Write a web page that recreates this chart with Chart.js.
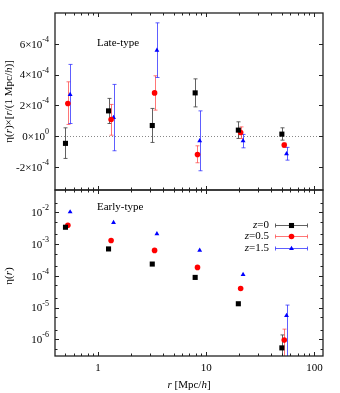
<!DOCTYPE html>
<html>
<head>
<meta charset="utf-8">
<script src="https://cdn.jsdelivr.net/npm/chart.js@4.4.1/dist/chart.umd.min.js"></script>
<style>
  body { margin: 0; background: #fff; }
  #wrap { position: relative; width: 340px; height: 393px; }
  canvas { position: absolute; left: 0; }
</style>
</head>
<body>
<div id="wrap">
  <canvas id="late" width="340" height="200" style="top:0"></canvas>
  <canvas id="early" width="340" height="213" style="top:180px"></canvas>
</div>
<script>
// separation r [Mpc/h] of each series (slightly offset for clarity)
const rZ0 = [0.50, 1.25, 3.17, 7.9, 19.8, 50];
const rZ05 = [0.526, 1.32, 3.33, 8.3, 20.8, 52.6];
const rZ15 = [0.552, 1.39, 3.5, 8.7, 21.9, 55.2];

// late-type: eta(r) * r
const lateZ0 = [-0.47e-4, 1.64e-4, 0.69e-4, 2.81e-4, 0.39e-4, 0.13e-4];
const lateZ0Lo = [-1.45e-4, 0.82e-4, -0.41e-4, 1.9e-4, -0.15e-4, -0.26e-4];
const lateZ0Hi = [0.54e-4, 2.45e-4, 1.8e-4, 3.72e-4, 0.93e-4, 0.54e-4];
const lateZ05 = [2.12e-4, 1.08e-4, 2.81e-4, -1.19e-4, 0.24e-4, -0.58e-4];
const lateZ05Lo = [0.76e-4, 0.06e-4, 1.69e-4, -1.73e-4, -0.15e-4, -0.73e-4];
const lateZ05Hi = [3.53e-4, 2.06e-4, 3.92e-4, -0.63e-4, 0.6e-4, -0.44e-4];
const lateZ15 = [2.7e-4, 1.21e-4, 5.58e-4, -0.3e-4, -0.3e-4, -1.15e-4];
const lateZ15Lo = [0.82e-4, -0.95e-4, 3.81e-4, -2.25e-4, -0.76e-4, -1.56e-4];
const lateZ15Hi = [4.66e-4, 3.36e-4, 7.36e-4, 1.64e-4, 0.11e-4, -0.73e-4];

// early-type: eta(r)
const earlyZ0 = [3.37e-3, 7.0e-4, 2.34e-4, 8.9e-5, 1.32e-5, 5.4e-7];
const earlyZ0Lo = [null, null, null, null, null, 1e-8];
const earlyZ0Hi = [null, null, null, null, null, 1.38e-6];
const earlyZ05 = [3.9e-3, 1.29e-3, 6.3e-4, 1.84e-4, 4.0e-5, 9.5e-7];
const earlyZ05Lo = [null, null, null, null, null, 1e-8];
const earlyZ05Hi = [null, null, null, null, null, 2.1e-6];
const earlyZ15 = [1.02e-2, 4.73e-3, 2.09e-3, 6.3e-4, 1.1e-4, 5.6e-6];
const earlyZ15Lo = [null, null, null, null, null, 1e-8];
const earlyZ15Hi = [null, null, null, null, null, 1.2e-5];

// ticks
const xMajor = [1, 10, 100];
const xMajorLabels = ['1', '10', '100'];
const xMinor = [0.5, 0.6, 0.7, 0.8, 0.9, 2, 3, 4, 5, 6, 7, 8, 9, 20, 30, 40, 50, 60, 70, 80, 90];
const lateTicks = [-2e-4, 0, 2e-4, 4e-4, 6e-4];
const lateTickBase = ['-2\u00d710', '0\u00d710', '2\u00d710', '4\u00d710', '6\u00d710'];
const lateTickExp = ['-4', '0', '-4', '-4', '-4'];
const earlyTicks = [1e-6, 1e-5, 1e-4, 1e-3, 1e-2];
const earlyTickBase = ['10', '10', '10', '10', '10'];
const earlyTickExp = ['-6', '-5', '-4', '-3', '-2'];
const earlyMinor = [5e-7, 2e-6, 5e-6, 2e-5, 5e-5, 2e-4, 5e-4, 2e-3, 5e-3, 2e-2];

const seriesLabels = ['0', '0.5', '1.5'];

const FONT = "'Liberation Serif', 'DejaVu Serif', serif";
const series = [
  { color: '#000000', err: 'rgba(70,70,70,0.85)', style: 'rect', radius: 3.6 },
  { color: '#ff0000', err: 'rgba(255,60,60,0.7)', style: 'circle', radius: 2.8 },
  { color: '#0000ff', err: 'rgba(40,40,255,0.75)', style: 'triangle', radius: 2.8 }
];

function pts(xs, ys) {
  return xs.map((x, i) => ({ x: x, y: ys[i] }));
}

function makeDatasets(rs, vals, los, his) {
  return series.map((s, k) => ({
    data: pts(rs[k], vals[k]),
    lo: los[k],
    hi: his[k],
    errColor: s.err,
    pointStyle: s.style,
    pointRadius: s.radius,
    pointHoverRadius: s.radius,
    backgroundColor: s.color,
    borderColor: s.color,
    borderWidth: 0,
    showLine: false
  }));
}

function setFont(ctx, size, italic) {
  ctx.font = (italic ? 'italic ' : '') + size + 'px ' + FONT;
}

// runs: [[text, italic], ...]
function runsWidth(ctx, runs, size) {
  let w = 0;
  runs.forEach(r => { setFont(ctx, size, r[1]); w += ctx.measureText(r[0]).width; });
  return w;
}

function drawRuns(ctx, runs, x, y, size, align) {
  let w = runsWidth(ctx, runs, size);
  let cx = align === 'center' ? x - w / 2 : align === 'right' ? x - w : x;
  ctx.textAlign = 'left';
  ctx.textBaseline = 'middle';
  runs.forEach(r => {
    setFont(ctx, size, r[1]);
    ctx.fillText(r[0], cx, y);
    cx += ctx.measureText(r[0]).width;
  });
}

function drawPowLabel(ctx, base, exp, xRight, y) {
  setFont(ctx, 11, false);
  const wb = ctx.measureText(base).width;
  setFont(ctx, 8, false);
  const we = ctx.measureText(exp).width;
  const x0 = xRight - wb - we;
  ctx.textAlign = 'left';
  ctx.textBaseline = 'middle';
  setFont(ctx, 11, false);
  ctx.fillText(base, x0, y + 1);
  setFont(ctx, 8, false);
  ctx.fillText(exp, x0 + wb, y - 4);
}

const errorBars = {
  id: 'errorBars',
  beforeDatasetsDraw(chart) {
    const { ctx, chartArea: a } = chart;
    const x = chart.scales.x, y = chart.scales.y;
    ctx.save();
    ctx.beginPath();
    ctx.rect(a.left, a.top, a.right - a.left, a.bottom - a.top);
    ctx.clip();
    const o = chart.options.plugins.panel;
    if (o.zeroLine) {
      const py = Math.round(y.getPixelForValue(0)) + 0.5;
      ctx.strokeStyle = '#888';
      ctx.lineWidth = 1;
      ctx.setLineDash([1, 2]);
      ctx.beginPath();
      ctx.moveTo(a.left, py);
      ctx.lineTo(a.right, py);
      ctx.stroke();
      ctx.setLineDash([]);
    }
    chart.data.datasets.forEach(ds => {
      ctx.strokeStyle = ds.errColor;
      ctx.lineWidth = 1;
      ds.data.forEach((p, i) => {
        if (ds.lo[i] == null) return;
        const px = Math.round(x.getPixelForValue(p.x)) + 0.5;
        const y1 = y.getPixelForValue(ds.lo[i]);
        const y2 = y.getPixelForValue(ds.hi[i]);
        ctx.beginPath();
        ctx.moveTo(px, y1); ctx.lineTo(px, y2);
        ctx.moveTo(px - 2, y1); ctx.lineTo(px + 2, y1);
        ctx.moveTo(px - 2, y2); ctx.lineTo(px + 2, y2);
        ctx.stroke();
      });
    });
    ctx.restore();
  }
};

const panel = {
  id: 'panel',
  afterDraw(chart, args, o) {
    const { ctx, chartArea: a } = chart;
    const x = chart.scales.x, y = chart.scales.y;
    ctx.save();
    ctx.strokeStyle = '#222';
    ctx.lineWidth = 1;
    // ticks
    ctx.beginPath();
    const xt = (v, len) => {
      const px = Math.round(x.getPixelForValue(v)) + 0.5;
      ctx.moveTo(px, a.bottom); ctx.lineTo(px, a.bottom - len);
      ctx.moveTo(px, a.top); ctx.lineTo(px, a.top + len);
    };
    const yt = (v, len) => {
      const py = Math.round(y.getPixelForValue(v)) + 0.5;
      ctx.moveTo(a.left, py); ctx.lineTo(a.left + len, py);
      ctx.moveTo(a.right, py); ctx.lineTo(a.right - len, py);
    };
    xMajor.forEach(v => xt(v, 4));
    xMinor.forEach(v => xt(v, 2.5));
    o.yMajor.forEach(v => yt(v, 4));
    (o.yMinor || []).forEach(v => yt(v, 2.5));
    ctx.stroke();
    // frame
    ctx.lineWidth = 1.3;
    ctx.strokeRect(a.left, a.top, a.right - a.left, a.bottom - a.top);

    ctx.fillStyle = '#000';
    // y tick labels
    o.yMajor.forEach((v, i) => {
      drawPowLabel(ctx, o.yBase[i], o.yExp[i], a.left - 6, y.getPixelForValue(v));
    });
    // x tick labels
    if (o.xLabels) {
      xMajor.forEach((v, i) => {
        drawRuns(ctx, [[xMajorLabels[i], 0]], x.getPixelForValue(v), a.bottom + 12, 11, 'center');
      });
      drawRuns(ctx, [['r', 1], [' [Mpc/', 0], ['h', 1], [']', 0]], (a.left + a.right) / 2, a.bottom + 29, 11, 'center');
    }
    // panel title
    drawRuns(ctx, [[o.title, 0]], 97, o.titleY, 11, 'left');
    // y title
    ctx.save();
    ctx.translate(9, o.yTitleY);
    ctx.rotate(-Math.PI / 2);
    drawRuns(ctx, o.yTitle, 0, 0, 11, 'center');
    ctx.restore();
    // legend
    if (o.legend) {
      const rows = [44.7, 56.2, 67.7];
      series.forEach((s, k) => {
        const ly = rows[k];
        ctx.fillStyle = '#000';
        drawRuns(ctx, [['z', 1], ['=' + seriesLabels[k], 0]], 269, ly, 11, 'right');
        ctx.strokeStyle = s.err;
        ctx.lineWidth = 1;
        ctx.beginPath();
        const py = Math.round(ly) + 0.5;
        ctx.moveTo(275.5, py); ctx.lineTo(307.5, py);
        ctx.moveTo(275.5, py - 2); ctx.lineTo(275.5, py + 2);
        ctx.moveTo(307.5, py - 2); ctx.lineTo(307.5, py + 2);
        ctx.stroke();
        ctx.fillStyle = s.color;
        Chart.helpers.drawPoint(ctx, { pointStyle: s.style, radius: s.radius, rotation: 0, borderWidth: 0 }, 291.5, py);
      });
    }
    ctx.restore();
  }
};

function baseOptions(yScale, padBottom, panelOpts) {
  return {
    responsive: false,
    animation: false,
    events: [],
    layout: { padding: { left: 55, right: 17, top: 13, bottom: padBottom } },
    scales: {
      x: { type: 'logarithmic', min: 0.4, max: 120, display: false },
      y: yScale
    },
    plugins: {
      legend: { display: false },
      tooltip: { enabled: false },
      panel: panelOpts
    }
  };
}

new Chart(document.getElementById('late'), {
  type: 'scatter',
  data: {
    datasets: makeDatasets(
      [rZ0, rZ05, rZ15],
      [lateZ0, lateZ05, lateZ15],
      [lateZ0Lo, lateZ05Lo, lateZ15Lo],
      [lateZ0Hi, lateZ05Hi, lateZ15Hi])
  },
  options: baseOptions({ type: 'linear', min: -3.5e-4, max: 8e-4, display: false }, 10, {
    zeroLine: true,
    yMajor: lateTicks, yBase: lateTickBase, yExp: lateTickExp,
    xLabels: false,
    title: 'Late-type', titleY: 43,
    yTitle: [['\u03b7(', 0], ['r', 1], [')\u00d7[', 0], ['r', 1], ['/(1 Mpc/', 0], ['h', 1], [')]', 0]],
    yTitleY: 101.5,
    legend: false
  }),
  plugins: [errorBars, panel]
});

const early = baseOptions({ type: 'logarithmic', min: 3e-7, max: 5e-2, display: false }, 37, {
  zeroLine: false,
  yMajor: earlyTicks, yBase: earlyTickBase, yExp: earlyTickExp, yMinor: earlyMinor,
  xLabels: true,
  title: 'Early-type', titleY: 26.7,
  yTitle: [['\u03b7(', 0], ['r', 1], [')', 0]],
  yTitleY: 96,
  legend: true
});
early.layout.padding.top = 10;

new Chart(document.getElementById('early'), {
  type: 'scatter',
  data: {
    datasets: makeDatasets(
      [rZ0, rZ05, rZ15],
      [earlyZ0, earlyZ05, earlyZ15],
      [earlyZ0Lo, earlyZ05Lo, earlyZ15Lo],
      [earlyZ0Hi, earlyZ05Hi, earlyZ15Hi])
  },
  options: early,
  plugins: [errorBars, panel]
});
</script>
</body>
</html>
